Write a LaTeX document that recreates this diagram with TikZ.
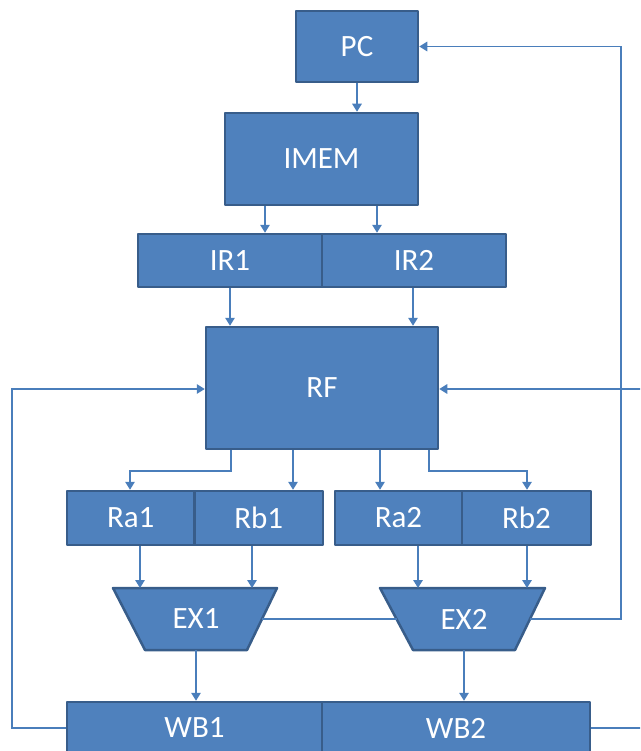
\documentclass[tikz,border=0pt]{standalone}
\usepackage{fontspec}
\setmainfont{Carlito}
\usetikzlibrary{arrows.meta}
\definecolor{boxfill}{HTML}{4F81BD}
\definecolor{boxline}{HTML}{385D8A}
\definecolor{wire}{HTML}{4A7EBB}
\tikzset{
  blk/.style={draw=boxline, fill=boxfill, line width=2.5pt, line join=round, text=white,
    font=\fontsize{31}{35}\selectfont, inner sep=0pt, anchor=center},
  lbl/.style={text=white, font=\fontsize{31}{35}\selectfont, inner sep=0pt},
  conn/.style={draw=wire, line width=1.5pt},
  arr/.style={conn, -{Triangle[length=8pt,width=9.5pt]}},
}
\begin{document}
\begin{tikzpicture}[x=1pt,y=-1pt]
\useasboundingbox (0,0) rectangle (640,751);
\clip (0,0) rectangle (640,751);
% blocks
\node[blk, minimum width=122pt, minimum height=71pt] (pc) at (357,46.5) {PC};
\node[blk, minimum width=193pt, minimum height=92pt] (imem) at (321.5,159) {IMEM};
\node[blk, minimum width=184pt, minimum height=53pt] (ir1) at (230,260.5) {IR1};
\node[blk, minimum width=184pt, minimum height=53pt] (ir2) at (414,260.5) {IR2};
\node[blk, minimum width=232pt, minimum height=122pt] (rf) at (322,388) {RF};
\node[blk, minimum width=127.5pt, minimum height=54pt] (ra1) at (130.75,518) {Ra1};
\node[blk, minimum width=128.5pt, minimum height=54pt] (rb1) at (258.75,518) {Rb1};
\node[blk, minimum width=127pt, minimum height=54pt] (ra2) at (398.5,518) {Ra2};
\node[blk, minimum width=129pt, minimum height=54pt] (rb2) at (526.5,518) {Rb2};
% ALUs
\draw[blk] (113,588) -- (277,588) -- (247,650) -- (145,650) -- cycle;
\draw[blk] (380,588) -- (545,588) -- (515,650) -- (413,650) -- cycle;
\node[lbl] (ex1) at (196,619) {EX1};
\node[lbl] (ex2) at (464,619) {EX2};
\coordinate (ex1bot) at (196,650);
\coordinate (ex1r) at (262,619);
\coordinate (ex2bot) at (464,650);
\coordinate (ex2l) at (397,619);
\coordinate (ex2r) at (530,619);
\node[blk, minimum width=255pt, minimum height=52pt] (wb1) at (194.5,728) {WB1};
\node[blk, minimum width=268pt, minimum height=52pt] (wb2) at (456,728) {WB2};
% connectors
\draw[arr] (pc.south) -- (imem.north -| pc.south);
\draw[arr] (imem.south -| 265,0) -- (ir1.north -| 265,0);
\draw[arr] (imem.south -| 377,0) -- (ir2.north -| 377,0);
\draw[arr] (ir1.south -| 230,0) -- (rf.north -| 230,0);
\draw[arr] (ir2.south -| 413,0) -- (rf.north -| 413,0);
\draw[arr] (rf.south -| 231,0) -- (231,471) -- (130,471) -- (ra1.north -| 130,0);
\draw[arr] (rf.south -| 293,0) -- (rb1.north -| 293,0);
\draw[arr] (rf.south -| 380,0) -- (ra2.north -| 380,0);
\draw[arr] (rf.south -| 429,0) -- (429,471) -- (527,471) -- (rb2.north -| 527,0);
\draw[arr] (ra1.south -| 140,0) -- (140,588);
\draw[arr] (rb1.south -| 252,0) -- (252,588);
\draw[arr] (ra2.south -| 418,0) -- (418,588);
\draw[arr] (rb2.south -| 527,0) -- (527,588);
\draw[conn] (ex1r) -- (ex2l);
\draw[arr] (ex2r) -- (621,619) -- (621,46.5) -- (pc.east);
\draw[arr] (ex1bot) -- (wb1.north -| ex1bot);
\draw[arr] (ex2bot) -- (wb2.north -| ex2bot);
\draw[arr] (wb1.west) -- (12,728) -- (12,389) -- (rf.west |- 0,389);
\draw[arr] (wb2.east) -- (648,728) -- (648,389) -- (rf.east |- 0,389);
\end{tikzpicture}
\end{document}
